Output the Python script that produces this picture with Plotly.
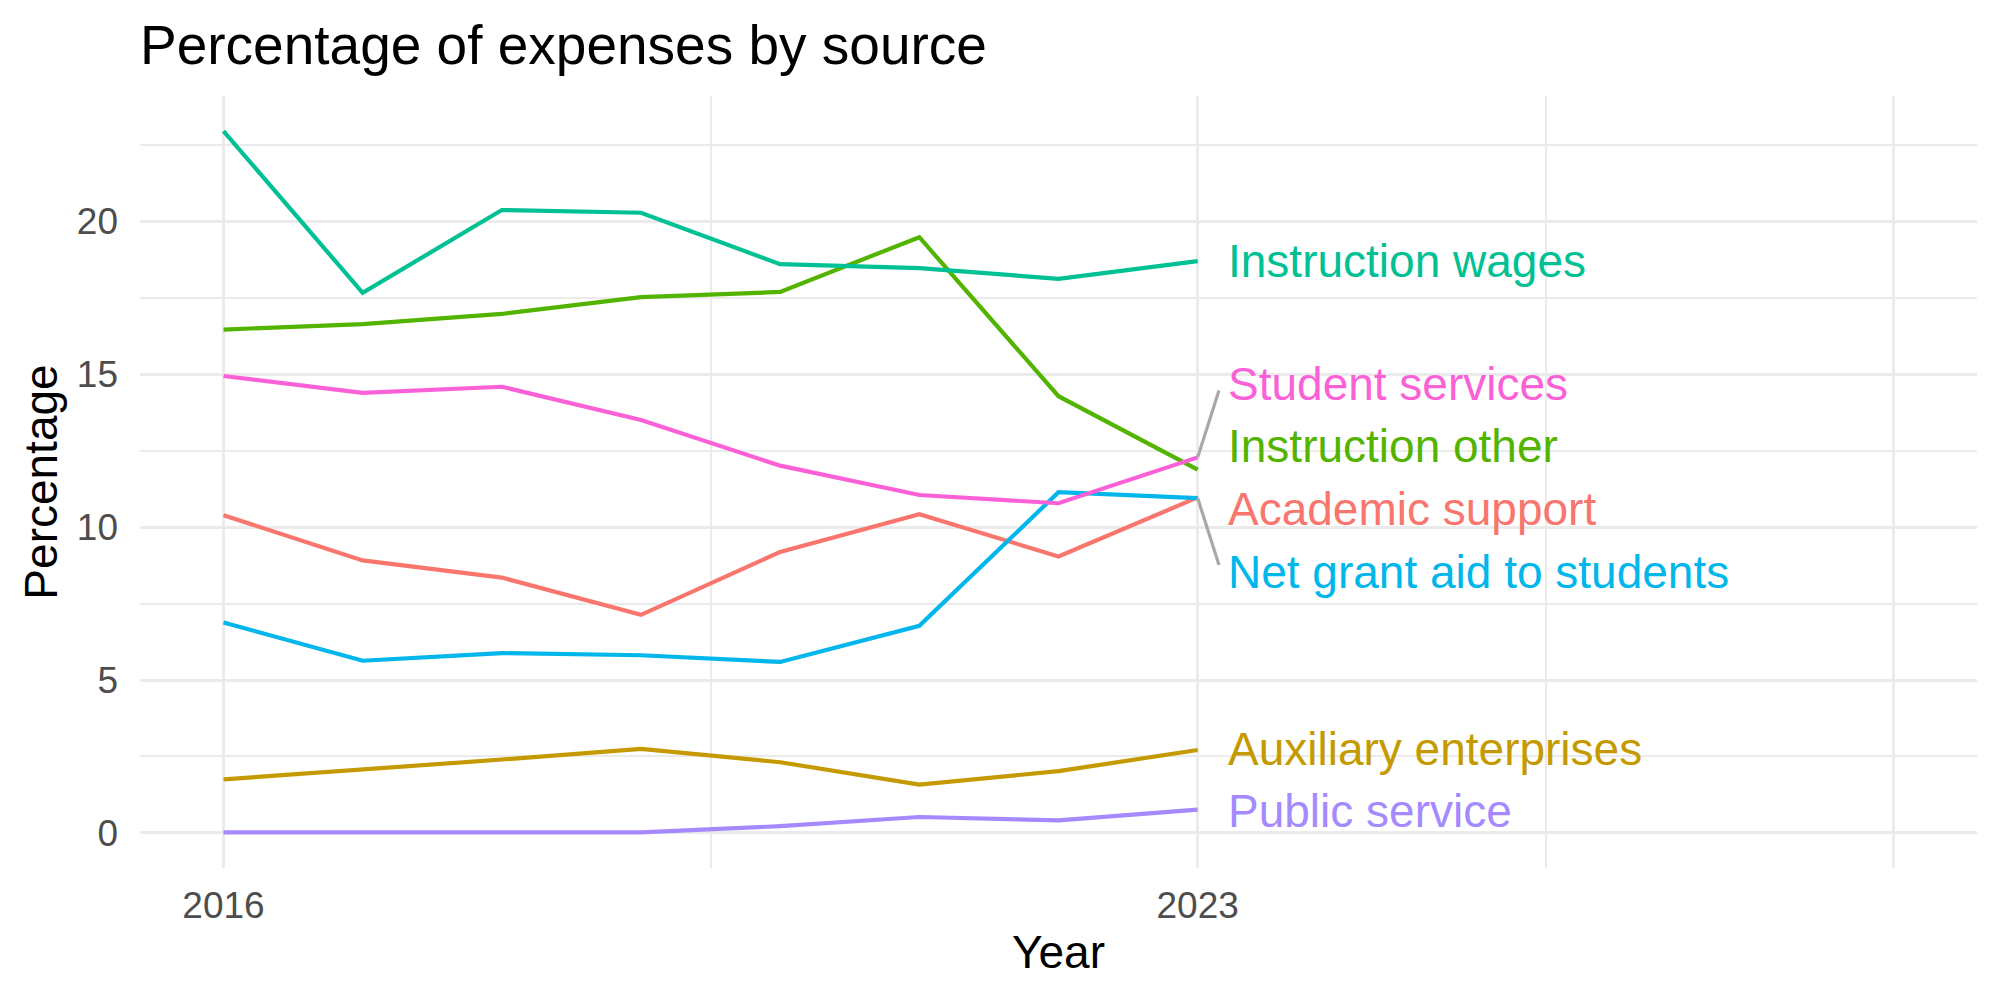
import plotly.graph_objects as go

# ---------------- data ----------------
years = [2016, 2017, 2018, 2019, 2020, 2021, 2022, 2023]

series_names = [
    "Academic support",
    "Auxiliary enterprises",
    "Instruction other",
    "Instruction wages",
    "Net grant aid to students",
    "Public service",
    "Student services",
]

academic_support = [10.39, 8.91, 8.35, 7.13, 9.19, 10.42, 9.04, 10.97]
auxiliary_enterprises = [1.75, 2.07, 2.40, 2.75, 2.31, 1.58, 2.02, 2.71]
instruction_other = [16.46, 16.64, 16.97, 17.52, 17.69, 19.48, 14.28, 11.88]
instruction_wages = [22.95, 17.66, 20.37, 20.28, 18.60, 18.47, 18.12, 18.70]
net_grant_aid = [6.88, 5.63, 5.88, 5.81, 5.59, 6.77, 11.14, 10.95]
public_service = [0.02, 0.01, 0.01, 0.02, 0.22, 0.52, 0.41, 0.76]
student_services = [14.94, 14.39, 14.59, 13.50, 12.01, 11.05, 10.78, 12.28]

values = [
    academic_support,
    auxiliary_enterprises,
    instruction_other,
    instruction_wages,
    net_grant_aid,
    public_service,
    student_services,
]

x_breaks = [2016, 2023, 2028]
x_tick_labels = ["2016", "2023", ""]
x_minor_breaks = [2019.5, 2025.5]
y_breaks = [0, 5, 10, 15, 20]
y_tick_labels = ["0", "5", "10", "15", "20"]
y_minor_breaks = [2.5, 7.5, 12.5, 17.5, 22.5]

# ---------------- style ----------------
colors = ["#F8766D", "#C49A00", "#53B400", "#00C094", "#00B6EB", "#A58AFF", "#FB61D7"]
FONT = "Liberation Sans, Arial, Helvetica, sans-serif"
GRID = "#EBEBEB"

fig = go.Figure()
for name, vals, col in zip(series_names, values, colors):
    fig.add_trace(go.Scatter(
        x=years, y=vals, mode="lines", name=name,
        line=dict(color=col, width=4.2), showlegend=False,
    ))

# ---------------- end labels with simple 1-D repel ----------------
last_year = years[-1]
ends = [(v[-1], i) for i, v in enumerate(values)]
ends.sort()
spacing = 2.05
clusters = [[e] for e in ends]
def place(cl):
    lo = min(c[0] for c in cl)
    hi = max(c[0] for c in cl)
    mid = (lo + hi) / 2
    n = len(cl)
    return [mid + (k - (n - 1) / 2) * spacing for k in range(n)]
changed = True
while changed:
    changed = False
    for k in range(len(clusters) - 1):
        a = place(clusters[k])
        b = place(clusters[k + 1])
        if b[0] - a[-1] < spacing:
            clusters[k] = clusters[k] + clusters[k + 1]
            del clusters[k + 1]
            changed = True
            break
label_pos = {}
for cl in clusters:
    for (v, i), p in zip(cl, place(cl)):
        label_pos[i] = p

label_dx = 0.20
for i, (name, vals, col) in enumerate(zip(series_names, values, colors)):
    ly = label_pos[i]
    fig.add_annotation(
        x=last_year + label_dx, y=ly, text=name, showarrow=False,
        xanchor="left", yanchor="middle",
        font=dict(family=FONT, size=46, color=col),
    )
    end_v = vals[-1]
    if abs(ly - end_v) > 1.0:
        sgn = 1 if ly > end_v else -1
        fig.add_trace(go.Scatter(
            x=[last_year, last_year + 0.153],
            y=[end_v, ly - sgn * 0.22],
            mode="lines", line=dict(color="#A8A8A8", width=3.2),
            showlegend=False, hoverinfo="skip",
        ))

fig.update_layout(
    width=2000, height=1000,
    paper_bgcolor="white", plot_bgcolor="white",
    margin=dict(l=140, r=23, t=96, b=132),
    title=dict(
        text="Percentage of expenses by source",
        x=140 / 2000, xanchor="left", xref="container",
        y=1 - 45 / 1000, yanchor="middle", yref="container",
        font=dict(family=FONT, size=55, color="black"),
    ),
    font=dict(family=FONT),
)
fig.update_xaxes(
    range=[2015.4, 2028.6],
    tickmode="array", tickvals=x_breaks, ticktext=x_tick_labels,
    showgrid=True, gridcolor=GRID, gridwidth=3.2,
    minor=dict(tickmode="array", tickvals=x_minor_breaks, showgrid=True, gridcolor=GRID, gridwidth=1.6),
    zeroline=False, showline=False, ticks="",
    tickfont=dict(family=FONT, size=37, color="#4D4D4D"),
    ticklabelstandoff=12,
    title=dict(text="Year", font=dict(family=FONT, size=46, color="black"), standoff=10),
)
fig.update_yaxes(
    range=[-1.1475, 24.0975],
    tickmode="array", tickvals=y_breaks, ticktext=y_tick_labels,
    showgrid=True, gridcolor=GRID, gridwidth=3.2,
    minor=dict(tickmode="array", tickvals=y_minor_breaks, showgrid=True, gridcolor=GRID, gridwidth=1.6),
    zeroline=False, showline=False, ticks="",
    tickfont=dict(family=FONT, size=37, color="#4D4D4D"),
    ticklabelstandoff=21,
    title=dict(text="Percentage", font=dict(family=FONT, size=46, color="black"), standoff=4),
)

fig.write_html("out.html")
